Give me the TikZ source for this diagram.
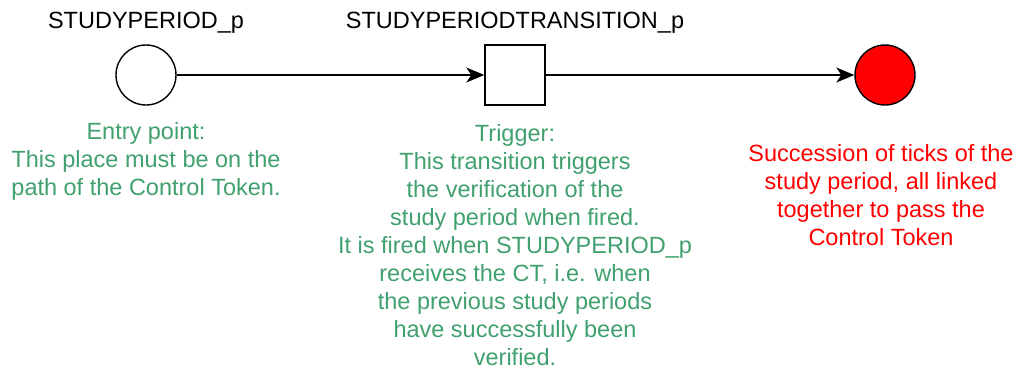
\documentclass[tikz,border=0pt]{standalone}
\usepackage{fontspec}
\setmainfont{Liberation Sans}
\usetikzlibrary{arrows.meta}
\definecolor{notegreen}{RGB}{64,160,110}
\definecolor{tickred}{RGB}{255,0,0}

\begin{document}
\begin{tikzpicture}[
    x=0.5pt, y=-0.5pt,
    every node/.style={font=\fontsize{11.75}{14}\selectfont},
    placenode/.style={
        draw,
        circle,
        minimum size=30pt,
        inner sep=0pt,
        line width=0.7pt
    },
    transnode/.style={placenode, rectangle},
    ticknode/.style={placenode, fill=tickred},
    title/.style={inner sep=0pt, anchor=base},
    note/.style={align=center, text=notegreen, inner sep=0pt},
    rednote/.style={note, text=tickred},
    arrow/.style={-{Stealth[length=9pt,width=7.5pt,inset=2.5pt]}, line width=0.7pt}
]
\useasboundingbox (0,0) rectangle (1019,377);

% ===== Petri net =====
\node[placenode] (sp)    at (146,75) {};
\node[transnode] (spt)   at (515,75) {};
\node[ticknode]  (ticks) at (885,75) {};

% ===== Names =====
\node[title] (spname)  at (146,28) {STUDYPERIOD\_p};
\node[title] (sptname) at (515,28) {STUDYPERIODTRANSITION\_p};

% ===== Notes =====
\node[note] (entry) at (146,161) {Entry point:\\This place must be on the\\path of the Control Token.};
\node[note] (trigger) at (515,245) {Trigger:\\This transition triggers\\the verification of the\\study period when fired.\\It is fired when STUDYPERIOD\_p\\receives the CT, i.e. when\\the previous study periods\\have successfully been\\verified.};
\node[rednote] (succ) at (881,195) {Succession of ticks of the\\study period, all linked\\together to pass the\\Control Token};

% ===== Arrows =====
\draw[arrow] (sp) -- (spt);
\draw[arrow] (spt) -- (ticks);

\end{tikzpicture}
\end{document}
